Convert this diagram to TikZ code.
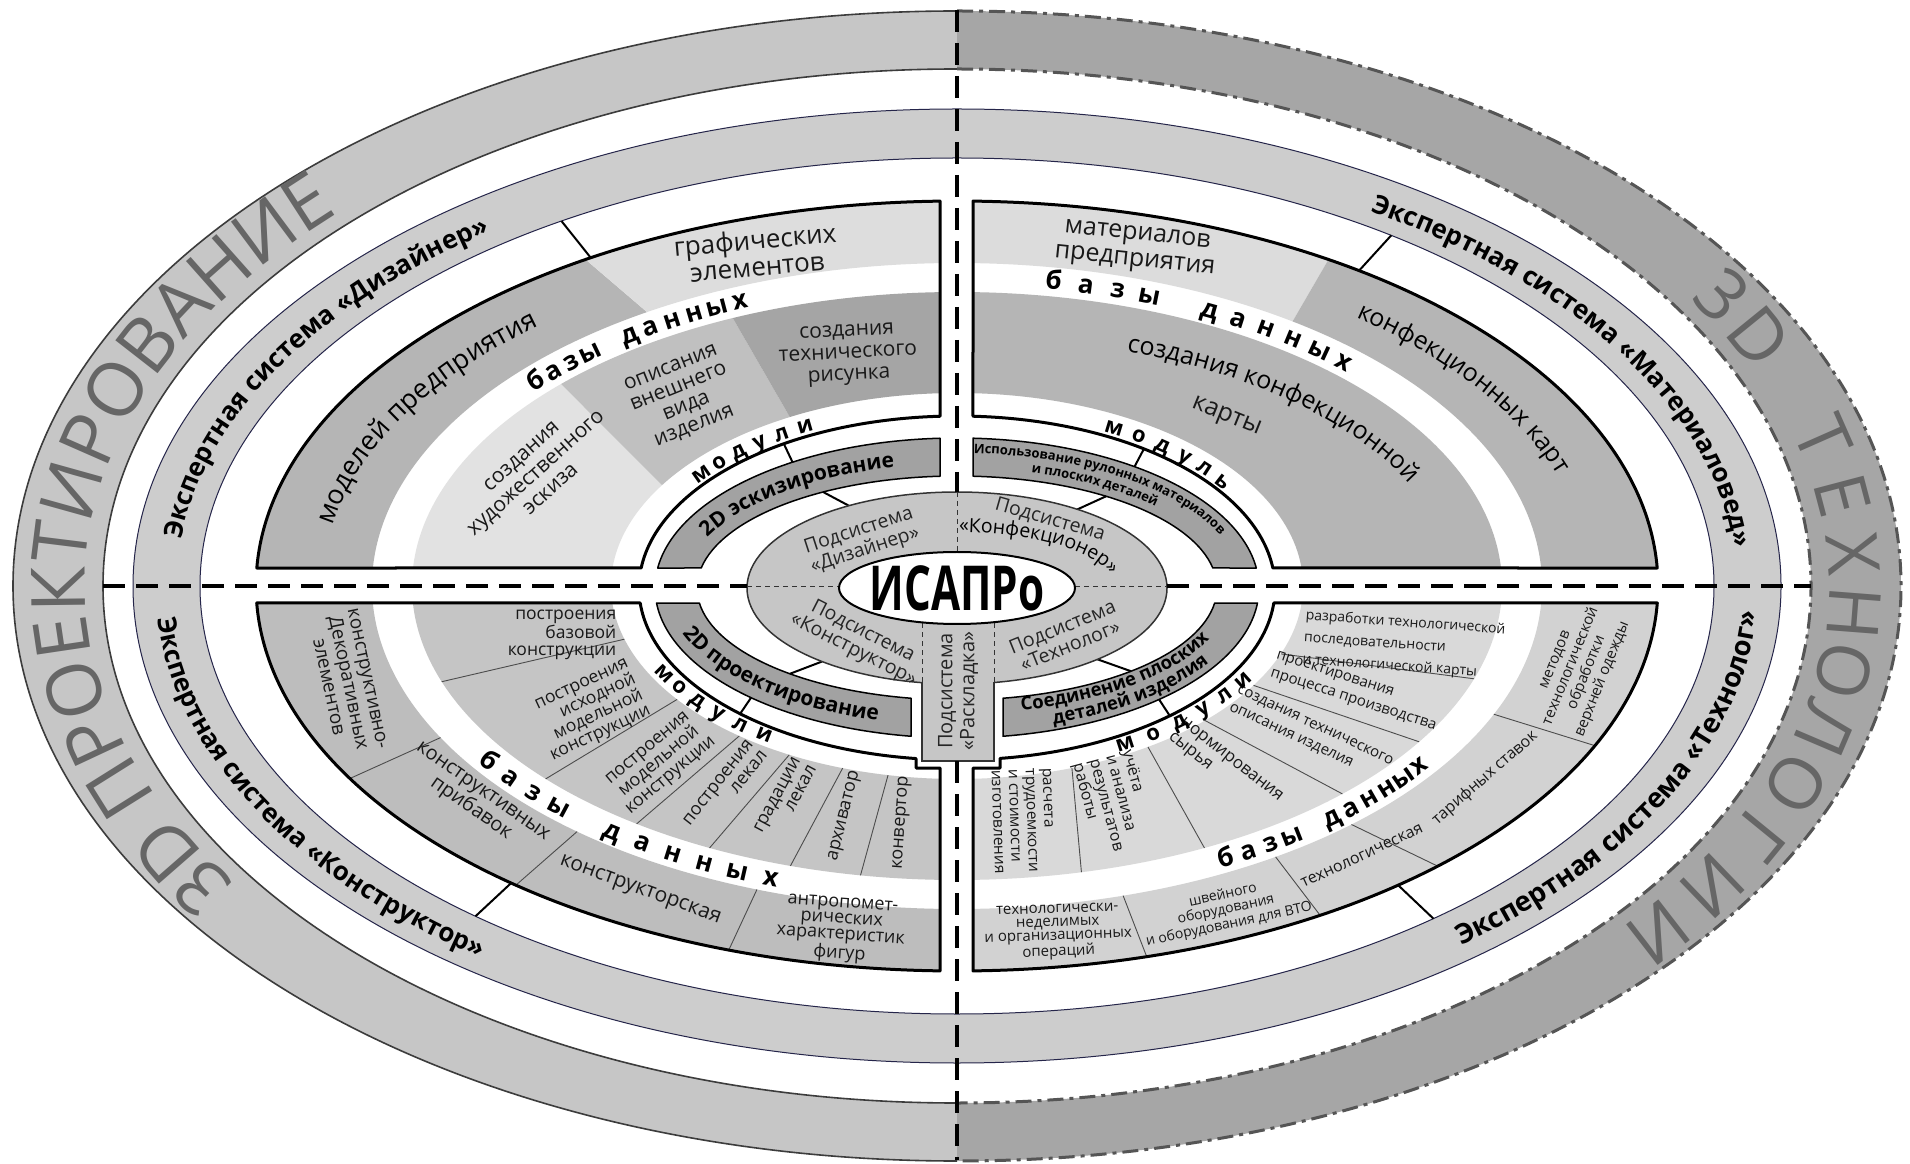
\documentclass[tikz,border=0pt]{standalone}
\usepackage{fontspec}
\setmainfont{Open Sans}
\usetikzlibrary{decorations.text}
\definecolor{ringL}{HTML}{C6C6C6}
\definecolor{ringR}{HTML}{A6A6A6}
\definecolor{ringLine}{HTML}{3C3C3C}
\definecolor{ringRLine}{HTML}{555555}
\definecolor{expertfill}{HTML}{CDCDCD}
\definecolor{navy}{HTML}{25254A}
\definecolor{tlMid}{HTML}{B5B5B5}
\definecolor{tlLight}{HTML}{DDDDDD}
\definecolor{tlInA}{HTML}{E2E2E2}
\definecolor{tlInB}{HTML}{C0C0C0}
\definecolor{tlInC}{HTML}{A5A5A5}
\definecolor{trLight}{HTML}{DCDCDC}
\definecolor{trMid}{HTML}{B5B5B5}
\definecolor{blOut}{HTML}{BDBDBD}
\definecolor{blIn}{HTML}{C5C5C5}
\definecolor{brOut}{HTML}{D2D2D2}
\definecolor{brIn}{HTML}{D9D9D9}
\definecolor{modg}{HTML}{A2A2A2}
\definecolor{subg}{HTML}{C6C6C6}
\definecolor{txtg}{HTML}{666666}
\newcommand{\fXP}{\fontsize{75}{75}\selectfont}
\newcommand{\fXR}{\fontsize{72}{72}\selectfont}
\newcommand{\fEX}{\fontsize{26}{26}\selectfont}
\newcommand{\fEXb}{\fontsize{27.5}{27.5}\selectfont}
\newcommand{\fDB}{\fontsize{26}{26}\selectfont}
\newcommand{\fMD}{\fontsize{22}{22}\selectfont}
\newcommand{\fMB}{\fontsize{21}{21}\selectfont}
\newcommand{\fSM}{\fontsize{13}{13}\selectfont}
\newcommand{\fSJ}{\fontsize{18.5}{18.5}\selectfont}
\newcommand{\fDT}{\fontsize{27}{27}\selectfont}
\newcommand{\fDTb}{\fontsize{25}{25}\selectfont}
\newcommand{\fSB}{\fontsize{19.5}{20.5}\selectfont}
\newcommand{\annsec}[9]{\fill[#1] ({957+#2*cos(#6)},{577+#3*sin(#6)}) arc[start angle=#6,end angle=#7,x radius=#2pt,y radius=#3pt] -- ({957+#4*cos(#9)},{577+#5*sin(#9)}) arc[start angle=#9,end angle=#8,x radius=#4pt,y radius=#5pt] -- cycle;}
\newcommand{\divl}[7]{\draw[#1] ({957+#2*cos(#4)},{577+#3*sin(#4)}) -- ({957+#5*cos(#7)},{577+#6*sin(#7)});}
\newcommand{\arctxt}[8]{\path[decorate,decoration={text along path,text align=center,text={|#1|#8}}] ({#2+#4*cos(#6)},{#3+#5*sin(#6)}) arc[start angle=#6,end angle=#7,x radius=#4pt,y radius=#5pt];}
\newcommand{\arctxtL}[8]{\path[decorate,decoration={text along path,text align=left,text={|#1|#8}}] ({#2+#4*cos(#6)},{#3+#5*sin(#6)}) arc[start angle=#6,end angle=#7,x radius=#4pt,y radius=#5pt];}
% letters placed one by one on an ellipse, tops outward (clockwise reading)
\newcommand{\lettop}[9]{\foreach \ch [count=\i] in {#9} {\pgfmathsetmacro\tta{#7-(\i-1)*(#8)}\pgfmathsetmacro\rra{atan2(-(#6)*cos(\tta),(#5)*sin(\tta))}\node[font=#2,anchor=base,rotate=\rra,inner sep=0pt] (#1\i) at ({#3+#5*cos(\tta)},{#4+#6*sin(\tta)}) {\ch};}}
% letters placed one by one on an ellipse, tops inward (counter-clockwise reading)
\newcommand{\letbot}[9]{\foreach \ch [count=\i] in {#9} {\pgfmathsetmacro\tta{#7+(\i-1)*(#8)}\pgfmathsetmacro\rra{atan2((#6)*cos(\tta),-(#5)*sin(\tta))}\node[font=#2,anchor=base,rotate=\rra,inner sep=0pt] (#1\i) at ({#3+#5*cos(\tta)},{#4+#6*sin(\tta)}) {\ch};}}
\def\TLbox{({957+701*cos(91.39)},{577+385*sin(91.39)}) arc[start angle=91.39,end angle=177.32,x radius=701pt,y radius=385pt] -- ({957+318*cos(173.32)},{575+172*sin(173.32)}) arc[start angle=173.32,end angle=93.06,x radius=318pt,y radius=172pt] -- cycle}
\def\TRbox{({957+701*cos(88.69)},{577+385*sin(88.69)}) arc[start angle=88.69,end angle=2.68,x radius=701pt,y radius=385pt] -- ({957+318*cos(6.68)},{575+172*sin(6.68)}) arc[start angle=6.68,end angle=87.12,x radius=318pt,y radius=172pt] -- cycle}
\def\BLbox{({957+701*cos(182.53)},{577+385*sin(182.53)}) arc[start angle=182.53,end angle=268.61,x radius=701pt,y radius=385pt] -- (940,395) -- (916,395) -- ({957+318*cos(262.59)},{575+172*sin(262.59)}) arc[start angle=262.59,end angle=185.0,x radius=318pt,y radius=172pt] -- cycle}
\def\BRbox{({957+701*cos(271.31)},{577+385*sin(271.31)}) -- (973,395) -- (1000,395) -- ({957+318*cos(277.77)},{575+172*sin(277.77)}) arc[start angle=277.77,end angle=355.0,x radius=318pt,y radius=172pt] -- ({957+701*cos(357.47)},{577+385*sin(357.47)}) arc[start angle=357.47,end angle=271.31,x radius=701pt,y radius=385pt] -- cycle}
\begin{document}
\begin{tikzpicture}[x=1pt,y=1pt,
  lbl/.style={align=center,inner sep=0pt,text=black!90},
  sub/.style={align=center,inner sep=0pt,text=black!85,font=\fSB},
  boxline/.style={draw=black,line width=3pt,line join=round},
  divline/.style={draw=black!70,line width=0.9pt},
  conn/.style={draw=black,line width=2pt},
  modband/.style={fill=modg,draw=black,line width=1.5pt,line join=round},
  bigdash/.style={draw=black,line width=4pt,dash pattern=on 22pt off 11pt},
  thindash/.style={draw=black!80,line width=1pt,dash pattern=on 5pt off 4pt}]
\fill[white] (0,0) rectangle (1910,1163);
\useasboundingbox (0,0) rectangle (1910,1163);
% ---------- outer ring ----------
\fill[ringL] (957,1152) arc[start angle=90,end angle=270,x radius=944pt,y radius=575pt] -- (957,60) arc[start angle=270,end angle=90,x radius=854pt,y radius=517pt] -- cycle;
\fill[ringR] (957,1152) arc[start angle=90,end angle=-90,x radius=944pt,y radius=575pt] -- (957,60) arc[start angle=-90,end angle=90,x radius=854pt,y radius=517pt] -- cycle;
\draw[ringLine,line width=1.6pt] (957,1152) arc[start angle=90,end angle=270,x radius=944pt,y radius=575pt];
\draw[ringLine,line width=1.6pt] (957,1094) arc[start angle=90,end angle=270,x radius=854pt,y radius=517pt];
\draw[ringRLine,line width=3pt,dash pattern=on 16pt off 6pt on 4pt off 6pt] (957,1152) arc[start angle=90,end angle=-90,x radius=944pt,y radius=575pt];
\draw[ringRLine,line width=3pt,dash pattern=on 16pt off 6pt on 4pt off 6pt] (957,1094) arc[start angle=90,end angle=-90,x radius=854pt,y radius=517pt];
% ---------- expert band ----------
\fill[expertfill,even odd rule] (957,577) ellipse[x radius=824pt,y radius=477pt] (957,577) ellipse[x radius=757pt,y radius=428pt];
\draw[navy,line width=1pt] (957,577) ellipse[x radius=824pt,y radius=477pt];
\draw[navy,line width=1pt] (957,577) ellipse[x radius=757pt,y radius=428pt];
% ---------- TL box ----------
\begin{scope}
\clip \TLbox;
\annsec{tlMid}{701}{385}{585}{323}{122}{190}{122}{190}
\annsec{tlLight}{701}{385}{585}{323}{80}{122}{80}{122}
\annsec{tlInA}{545}{294}{346}{193}{136.6}{190}{148.5}{190}
\annsec{tlInB}{545}{294}{346}{193}{114.3}{136.6}{118.9}{148.5}
\annsec{tlInC}{545}{294}{346}{193}{80}{114.3}{80}{118.9}
\end{scope}
\draw[boxline] \TLbox;
% ---------- TR box ----------
\begin{scope}
\clip \TRbox;
\annsec{trLight}{701}{385}{585}{323}{58}{100}{55}{100}
\annsec{trMid}{701}{385}{585}{323}{-10}{58}{-10}{55}
\annsec{trMid}{545}{294}{346}{193}{-10}{100}{-10}{100}
\end{scope}
\draw[boxline] \TRbox;
% ---------- BL box ----------
\begin{scope}
\clip \BLbox;
\annsec{blOut}{701}{385}{585}{323}{170}{280}{170}{280}
\annsec{blIn}{545}{294}{346}{193}{170}{280}{170}{280}
\divl{divline}{701}{385}{210}{585}{323}{208}
\divl{divline}{701}{385}{231}{585}{323}{229.5}
\divl{divline}{701}{385}{251}{585}{323}{250}
\divl{divline}{545}{294}{199}{346}{193}{196}
\divl{divline}{545}{294}{221}{346}{193}{216}
\divl{divline}{545}{294}{234}{346}{193}{231}
\divl{divline}{545}{294}{243}{346}{193}{241}
\divl{divline}{545}{294}{252.2}{346}{193}{250.7}
\divl{divline}{545}{294}{259.8}{346}{193}{258.5}
\end{scope}
\draw[boxline] \BLbox;
% ---------- BR box ----------
\begin{scope}
\clip \BRbox;
\annsec{brOut}{701}{385}{585}{323}{260}{370}{260}{370}
\annsec{brIn}{545}{294}{346}{193}{260}{370}{260}{370}
\divl{divline}{701}{385}{335.5}{585}{323}{336.6}
\divl{divline}{701}{385}{313.3}{585}{323}{312.4}
\divl{divline}{701}{385}{301.2}{585}{323}{303}
\divl{divline}{701}{385}{285.7}{585}{323}{286.5}
\divl{divline}{545}{294}{341.6}{346}{193}{339.4}
\divl{divline}{545}{294}{328}{346}{193}{329}
\divl{divline}{545}{294}{315}{346}{193}{315.8}
\divl{divline}{545}{294}{297}{346}{193}{303.5}
\divl{divline}{545}{294}{283.2}{346}{193}{289.4}
\end{scope}
\draw[boxline] \BRbox;
% ---------- connectors box -> expert ----------
\divl{conn}{701}{385}{121.5}{757}{428}{121.5}
\divl{conn}{701}{385}{55}{757}{428}{55}
\divl{conn}{701}{385}{230.5}{757}{428}{230.5}
\divl{conn}{701}{385}{309}{757}{428}{309}
% ---------- module bands ----------
\path[modband] ({957+302*cos(93.23)},{575+150*sin(93.23)}) arc[start angle=93.23,end angle=172.34,x radius=302pt,y radius=150pt] -- ({957+260*cos(169.71)},{575+112*sin(169.71)}) arc[start angle=169.71,end angle=93.75,x radius=260pt,y radius=112pt] -- cycle;
\path[modband] ({957+302*cos(86.96)},{575+150*sin(86.96)}) arc[start angle=86.96,end angle=7.66,x radius=302pt,y radius=150pt] -- ({957+260*cos(10.29)},{575+112*sin(10.29)}) arc[start angle=10.29,end angle=86.47,x radius=260pt,y radius=112pt] -- cycle;
\path[modband] ({957+302*cos(185.74)},{575+150*sin(185.74)}) arc[start angle=185.74,end angle=261.24,x radius=302pt,y radius=150pt] -- ({957+260*cos(259.81)},{575+112*sin(259.81)}) arc[start angle=259.81,end angle=187.70,x radius=260pt,y radius=112pt] -- cycle;
\path[modband] ({957+302*cos(278.76)},{575+150*sin(278.76)}) arc[start angle=278.76,end angle=354.26,x radius=302pt,y radius=150pt] -- ({957+260*cos(352.30)},{575+112*sin(352.30)}) arc[start angle=352.30,end angle=280.19,x radius=260pt,y radius=112pt] -- cycle;
% ticks cutout -> module
\draw[conn] ({957+318*cos(123)},{575+172*sin(123)}) -- ({957+302*cos(123)},{575+150*sin(123)});
\draw[conn] ({957+318*cos(54)},{575+172*sin(54)}) -- ({957+302*cos(54)},{575+150*sin(54)});
\draw[conn] ({957+318*cos(227)},{575+172*sin(227)}) -- ({957+302*cos(227)},{575+150*sin(227)});
\draw[conn] ({957+318*cos(312)},{575+172*sin(312)}) -- ({957+302*cos(312)},{575+150*sin(312)});
% ticks module -> subsystem ring
\draw[conn] ({957+260*cos(121)},{575+112*sin(121)}) -- ({957+210*cos(121)},{575+96*sin(121)});
\draw[conn] ({957+260*cos(55)},{575+112*sin(55)}) -- ({957+210*cos(55)},{575+96*sin(55)});
\draw[conn] ({957+260*cos(230)},{575+112*sin(230)}) -- ({957+210*cos(230)},{575+96*sin(230)});
\draw[conn] ({957+260*cos(312)},{575+112*sin(312)}) -- ({957+210*cos(312)},{575+96*sin(312)});
% ---------- subsystem ring ----------
\filldraw[fill=subg,draw=black!80,line width=1.5pt] (957,575) ellipse[x radius=210pt,y radius=96pt];
\fill[subg] (922,402) rectangle (994,548);
\draw[black!80,line width=1.2pt] (922,481) -- (922,402) -- (994,402) -- (994,481);
\draw[thindash] (922,481) -- (922,545);
\draw[thindash] (994,481) -- (994,545);
\draw[thindash] (957,671) -- (957,611);
\draw[thindash] (747,576) -- (839,576);
\draw[thindash] (1075,576) -- (1167,576);
\filldraw[fill=white,draw=black,line width=2pt] (957,575) ellipse[x radius=118pt,y radius=36pt];
% ---------- main dashed axes ----------
\draw[bigdash] (103,577) -- (747,577);
\draw[bigdash] (1167,577) -- (1811,577);
\draw[bigdash] (957,1153) -- (957,671);
\draw[bigdash] (957,402) -- (957,3);
% ---------- outer ring texts ----------
\arctxt{\color{txtg}\fXP}{957}{577}{872}{529}{222}{128}{3D ПРОЕКТИРОВАНИЕ}
\lettop{rtA}{\fXR\color{txtg}}{957}{577}{872}{529}{31}{4.8}{3,D}
\lettop{rtB}{\fXR\color{txtg}}{957}{577}{872}{529}{15}{5.9}{Т,Е,Х,Н,О,Л,О,Г,И,И}
% ---------- expert texts ----------
\arctxtL{\bfseries\fEX}{957}{577}{780}{442}{174}{60}{Экспертная система «Дизайнер»}
\arctxtL{\bfseries\fEX}{957}{577}{780}{442}{58}{-40}{Экспертная система «Материаловед»}
\arctxtL{\bfseries\fEX}{957}{577}{801}{463}{184}{280}{Экспертная система «Конструктор»}
\arctxtL{\bfseries\fEXb}{957}{577}{801}{463}{309}{400}{Экспертная система «Технолог»}
% ---------- TL texts ----------
\node[lbl,font=\fontsize{26}{27}\selectfont,rotate=5] (tlA) at (756,910) {графических\\элементов};
\arctxtL{\fDT}{957}{577}{634}{346}{170}{80}{моделей предприятия}
\node[lbl,font=\fontsize{21}{22}\selectfont,rotate=42] (tlB) at (536,690) {создания\\художественного\\эскиза};
\node[lbl,font=\fontsize{21}{21}\selectfont,rotate=22] (tlC) at (683,765) {описания\\внешнего\\вида\\изделия};
\node[lbl,font=\fontsize{21}{22}\selectfont,rotate=3] (tlD) at (848,808) {создания\\технического\\рисунка};
\lettop{tldb}{\bfseries\fDB}{957}{577}{552}{301}{139}{2.6}{б,а,з,ы,,д,а,н,н,ы,х}
\lettop{tlmd}{\bfseries\fMD}{957}{577}{320}{174}{142}{4.8}{м,о,д,у,л,и}
\arctxtL{\bfseries\fMB}{957}{575}{273}{124}{156}{60}{2D эскизирование}
\node[sub,rotate=18] (tlE) at (862,622) {Подсистема\\«Дизайнер»};
% ---------- TR texts ----------
\node[lbl,font=\fontsize{25}{26}\selectfont,rotate=-6] (trA) at (1136,914) {материалов\\предприятия};
\arctxtL{\fDTb}{957}{577}{634}{346}{51}{-30}{конфекционных карт}
\arctxtL{\fDTb}{957}{577}{496}{250}{70}{-20}{создания конфекционной}
\node[lbl,font=\fDTb,rotate=-22] (trB) at (1226,745) {карты};
\lettop{trdb}{\bfseries\fDB}{957}{577}{552}{301}{80}{3.4}{б,а,з,ы,,д,а,н,н,ы,х}
\lettop{trmd}{\bfseries\fMD}{957}{577}{320}{174}{61}{5.2}{м,о,д,у,л,ь}
\arctxt{\bfseries\fSM}{957}{575}{286}{135}{97}{3}{Использование рулонных материалов}
\arctxt{\bfseries\fSM}{957}{575}{270}{120}{97}{3}{и плоских деталей}
\node[sub,rotate=-16] (trC) at (1050,643) {Подсистема};
\arctxt{\fSB}{957}{575}{158}{56}{100}{-15}{«Конфекционер»}
% ---------- BL texts ----------
\node[lbl,font=\fontsize{19}{20}\selectfont,rotate=-78] (blA) at (348,480) {конструктивно-\\Декоративных\\элементов};
\node[lbl,font=\fontsize{20}{21}\selectfont,rotate=-35] (blB) at (476,362) {конструктивных\\прибавок};
\node[lbl,font=\fontsize{21}{21}\selectfont,rotate=-20] (blC) at (640,272) {конструкторская};
\node[lbl,font=\fontsize{18}{16}\selectfont,rotate=-4] (blD) at (841,233) {антропомет-\\рических\\характеристик\\фигур};
\node[lbl,font=\fontsize{17.5}{17.5}\selectfont,align=right] (blE) at (562,528) {построения\\базовой\\конструкции};
\node[lbl,font=\fontsize{17.5}{17.5}\selectfont,align=right,rotate=25] (blF) at (590,452) {построения\\исходной\\модельной\\конструкции};
\node[lbl,font=\fontsize{18}{18}\selectfont,rotate=40] (blG) at (660,400) {построения\\модельной\\конструкции};
\node[lbl,font=\fontsize{18}{18}\selectfont,align=right,rotate=52] (blH) at (725,375) {построения\\лекал};
\node[lbl,font=\fontsize{18}{18}\selectfont,align=right,rotate=62] (blI) at (785,364) {градации\\лекал};
\node[lbl,font=\fontsize{18}{18}\selectfont,rotate=76] (blJ) at (845,347) {архиватор};
\node[lbl,font=\fontsize{18}{18}\selectfont,rotate=86] (blK) at (902,340) {конвертор};
\letbot{bldb}{\bfseries\fDB}{957}{577}{577}{317}{215}{3.6}{б,а,з,ы,,д,а,н,н,ы,х}
\letbot{blmd}{\bfseries\fMD}{957}{577}{340}{189}{209}{5.2}{м,о,д,у,л,и}
\arctxtL{\bfseries\fMB}{957}{575}{290}{138}{199}{290}{2D проектирование}
\node[sub,rotate=-27] (blL) at (858,522) {Подсистема\\«Конструктор»};
% ---------- BR texts ----------
\node[lbl,font=\fontsize{14}{22}\selectfont,align=left,rotate=-4] (brA) at (1404,518) {разработки технологической\\последовательности\\и технологической карты};
\node[lbl,font=\fontsize{15}{19}\selectfont,align=left,rotate=-18] (brB) at (1356,471) {проектирования\\процесса производства};
\node[lbl,font=\fontsize{15}{19}\selectfont,align=left,rotate=-25] (brC) at (1311,428) {создания технического\\описания изделия};
\node[lbl,font=\fontsize{17}{19}\selectfont,align=left,rotate=-38] (brD) at (1225,395) {нормирования\\сырья};
\node[lbl,font=\fontsize{16}{17}\selectfont,align=left,rotate=-75] (brE) at (1114,360) {учёта\\и анализа\\результатов\\работы};
\node[lbl,font=\fontsize{15.5}{17}\selectfont,align=left,rotate=-88] (brF) at (1023,342) {расчета\\трудоемкости\\и стоимости\\изготовления};
\node[lbl,font=\fontsize{15}{17}\selectfont,rotate=68] (brG) at (1580,493) {методов\\технологической\\обработки\\верхней одежды};
\node[lbl,font=\fontsize{16}{16}\selectfont,rotate=41] (brH) at (1485,385) {тарифных ставок};
\node[lbl,font=\fontsize{16}{16}\selectfont,rotate=25] (brI) at (1362,307) {технологическая};
\node[lbl,font=\fontsize{14}{15}\selectfont,rotate=12] (brJ) at (1226,253) {швейного\\оборудования\\и оборудования для ВТО};
\node[lbl,font=\fontsize{15}{13.5}\selectfont,rotate=2] (brK) at (1058,231) {технологически-\\неделимых\\и организационных\\операций};
\letbot{brdb}{\bfseries\fDB}{957}{577}{577}{317}{298}{2.6}{б,а,з,ы,,д,а,н,н,ы,х}
\letbot{brmd}{\bfseries\fMD}{957}{577}{340}{189}{300}{5.7}{м,о,д,у,л,и}
\arctxt{\bfseries\fSJ}{957}{575}{276}{126}{271}{361}{Соединение плоских}
\arctxt{\bfseries\fSJ}{957}{575}{295}{144}{271}{361}{деталей изделия}
\node[sub,rotate=22] (brL) at (1066,527) {Подсистема\\«Технолог»};
% ---------- centre ----------
\node[sub,font=\fontsize{20}{22}\selectfont,rotate=90] (rsk) at (958,472) {Подсистема\\«Раскладка»};
\node[font=\fontsize{62}{62}\selectfont\bfseries,xscale=0.68,inner sep=0pt] (isp) at (957,575) {ИСАПРо};
\end{tikzpicture}
\end{document}
